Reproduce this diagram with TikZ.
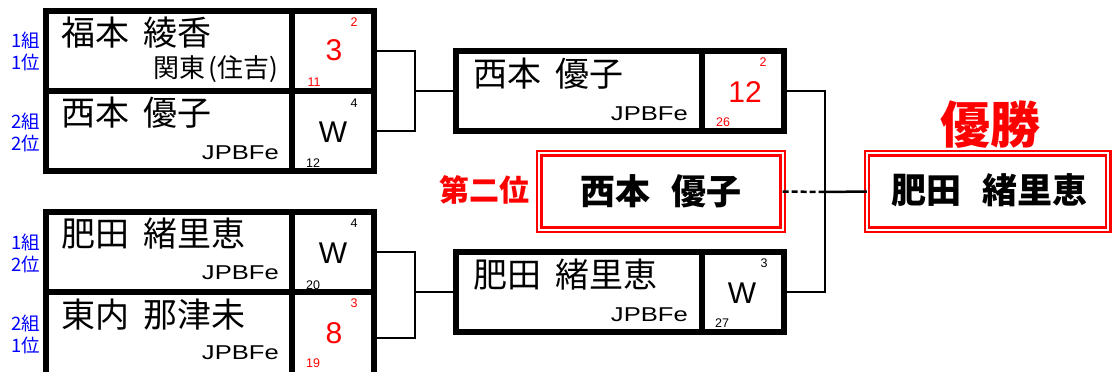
\documentclass[tikz,border=0pt]{standalone}
\usepackage{fontspec}
\setmainfont{Noto Sans CJK JP}
\newfontfamily\lat{Liberation Sans}
\newfontfamily\latw{Liberation Sans}[FakeStretch=1.28]
\newcommand\gap{\hspace{0.42em}}
\newcommand\wgap{\hspace{0.6em}}
\tikzset{
  cell/.style={draw, line width=6pt, rectangle, inner sep=0pt, outer sep=0pt},
  namecell/.style={cell, minimum width=245.5pt, minimum height=80pt},
  scorecell/.style={cell, minimum width=82.5pt, minimum height=80pt},
  mnamecell/.style={cell, minimum width=246pt, minimum height=80pt},
  mscorecell/.style={cell, minimum width=82pt, minimum height=80pt},
  conn/.style={line width=2.5pt},
  dconn/.style={line width=2.5pt, dash pattern=on 6pt off 3pt},
  nm/.style={anchor=west, inner sep=0pt, font=\fontsize{34}{34}\selectfont},
  subname/.style={anchor=east, inner sep=0pt, font=\fontsize{26}{26}\selectfont},
  club/.style={anchor=east, inner sep=0pt, font=\latw\fontsize{20}{20}\selectfont},
  score/.style={inner sep=0pt, font=\lat\fontsize{30}{30}\selectfont},
  smallnum/.style={inner sep=0pt, font=\lat\fontsize{12.5}{12.5}\selectfont},
  grp/.style={inner sep=0pt, align=center, text=blue, font=\fontsize{18.5}{22}\selectfont},
  redbox/.style={draw=red, fill=white, line width=2.2pt, double=white, double distance=2.2pt,
     rectangle, inner sep=0pt, outer sep=0pt, minimum height=76.4pt},
  bigname/.style={inner sep=0pt, font=\bfseries\fontsize{35}{35}\selectfont},
}
\begin{document}
\begin{tikzpicture}[x=1pt,y=-1pt]
\useasboundingbox (0,0) rectangle (1112,372);
\clip (0,0) rectangle (1112,372);
\fill[white] (0,0) rectangle (1112,372);

% ---- top-left block ----
\node[namecell]  (n11) at (168.75,51) {};
\node[scorecell] (s11) at (332.75,51) {};
\node[namecell]  (n12) at (168.75,131) {};
\node[scorecell] (s12) at (332.75,131) {};
% ---- bottom-left block ----
\node[namecell]  (n21) at (168.75,252) {};
\node[scorecell] (s21) at (332.75,252) {};
\node[cell, minimum width=245.5pt, minimum height=86pt] (n22) at (168.75,335) {};
\node[cell, minimum width=82.5pt, minimum height=86pt]  (s22) at (332.75,335) {};
% ---- middle blocks ----
\node[mnamecell]  (m1n) at (579,91) {};
\node[mscorecell] (m1s) at (743,91) {};
\node[mnamecell]  (m2n) at (579,292) {};
\node[mscorecell] (m2s) at (743,292) {};

% ---- final boxes ----
\node[redbox, minimum width=243.4pt] (second) at (661,191.5) {};
\node[redbox, minimum width=241.4pt] (winner) at (987.5,191.5) {};

% ---- connectors ----
\coordinate (j1) at (415,91);
\coordinate (j2) at (415,292);
\coordinate (j3) at (825,192);
\draw[conn] (s11.east) -| (j1);
\draw[conn] (s12.east) -| (j1);
\draw[conn] (j1) -- (m1n.west);
\draw[conn] (s21.east) -| (j2);
\draw[conn] ([yshift=-3pt]s22.east) -| (j2);
\draw[conn] (j2) -- (m2n.west);
\draw[conn] (m1s.east) -| (j3);
\draw[conn] (m2s.east) -| (j3);
\draw[conn] (j3) -- (winner.west);
\draw[dconn] (second.east) -- (j3);

% ---- group labels ----
\node[grp] (g1) at (26,51)  {1組\\1位};
\node[grp] (g2) at (26,132) {2組\\2位};
\node[grp] (g3) at (26,253) {1組\\2位};
\node[grp] (g4) at (26,334) {2組\\1位};

% ---- top-left texts ----
\node[nm] (t11) at (61,33) {福本\gap 綾香};
\node[subname] (c11) at (279,69) {関東\hspace{3pt}(住吉\hspace{1pt})};
\node[score, text=red] (v11) at (334,50) {3};
\node[smallnum, text=red] (a11) at (354,22) {2};
\node[smallnum, text=red] (b11) at (314,82) {11};

\node[nm] (t12) at (61,113) {西本\gap 優子};
\node[club] (c12) at (279,153) {JPBFe};
\node[score] (v12) at (333,132) {W};
\node[smallnum] (a12) at (354,103) {4};
\node[smallnum] (b12) at (313,163) {12};

% ---- bottom-left texts ----
\node[nm] (t21) at (61,233.5) {肥田\gap 緒里恵};
\node[club] (c21) at (279,273) {JPBFe};
\node[score] (v21) at (333,253) {W};
\node[smallnum] (a21) at (354,223) {4};
\node[smallnum] (b21) at (313,285) {20};

\node[nm] (t22) at (61,315) {東内\gap 那津未};
\node[club] (c22) at (279,353) {JPBFe};
\node[score, text=red] (v22) at (334,333) {8};
\node[smallnum, text=red] (a22) at (354,303) {3};
\node[smallnum, text=red] (b22) at (313,363) {19};

% ---- middle texts ----
\node[nm] (tm1) at (473,73.5) {西本\gap 優子};
\node[club] (cm1) at (688,114) {JPBFe};
\node[score, text=red] (vm1) at (745,92) {12};
\node[smallnum, text=red] (am1) at (763,62) {2};
\node[smallnum, text=red] (bm1) at (723,122) {26};

\node[nm] (tm2) at (473,274.5) {肥田\gap 緒里恵};
\node[club] (cm2) at (688,315) {JPBFe};
\node[score] (vm2) at (742,293) {W};
\node[smallnum] (am2) at (764,263) {3};
\node[smallnum] (bm2) at (722,323) {27};

% ---- final texts ----
\node[bigname] (ts) at (second.center) {西本\wgap 優子};
\node[bigname] (tw) at (989.5,190) {肥田\wgap 緒里恵};
\node[inner sep=0pt, text=red, font=\bfseries\fontsize{30}{30}\selectfont] (l2) at (484,190) {第二位};
\node[inner sep=0pt, text=red, font=\bfseries\fontsize{50}{50}\selectfont] (l1) at (990,125) {優勝};
\end{tikzpicture}
\end{document}
